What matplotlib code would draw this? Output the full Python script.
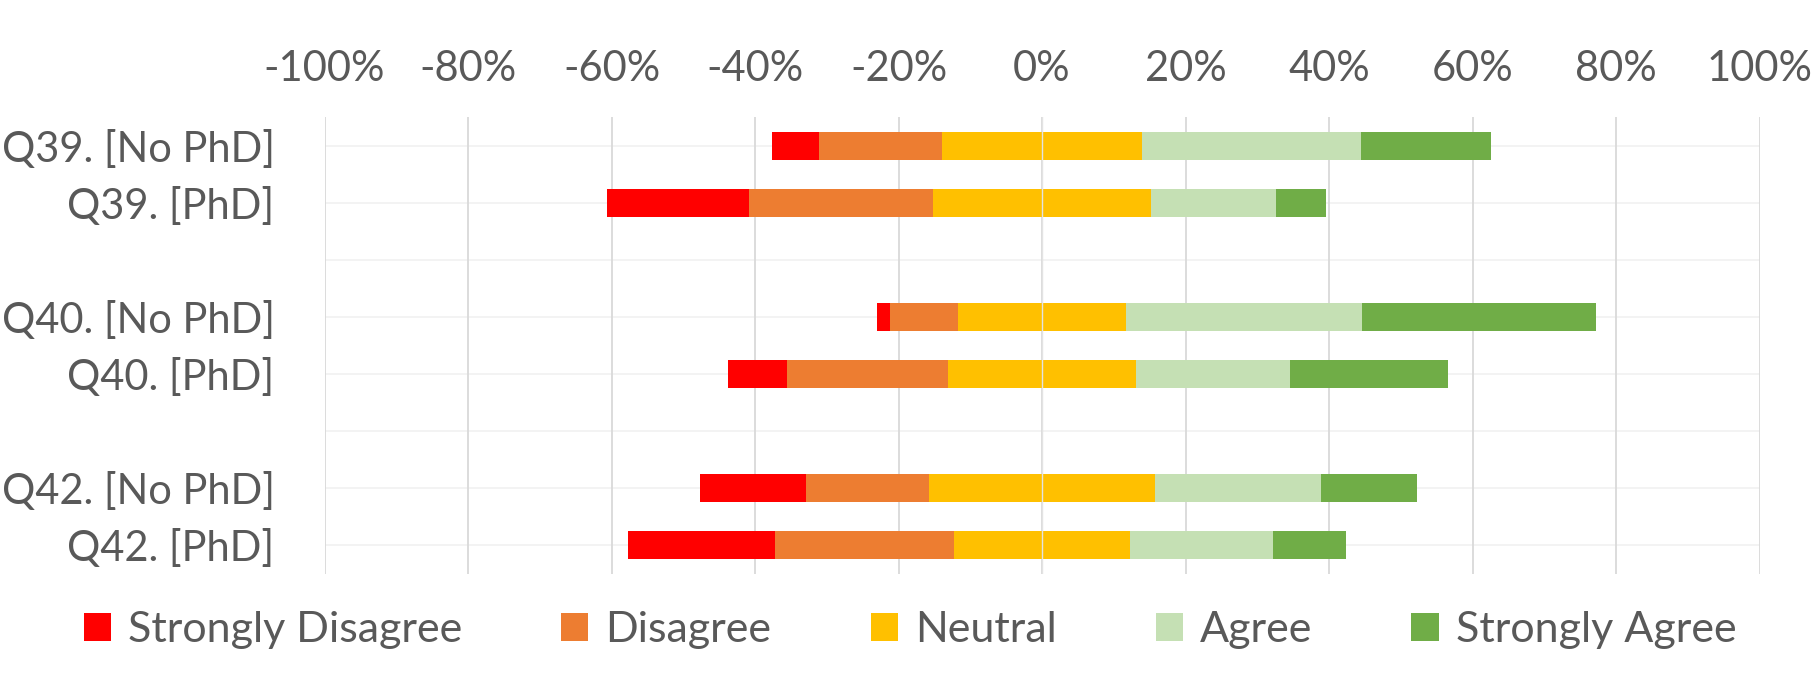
import numpy as np
import matplotlib.pyplot as plt

plt.rcParams['font.family'] = ['Lato', 'DejaVu Sans']

labels = ['Q39. [No PhD]', 'Q39. [PhD]', '', 'Q40. [No PhD]', 'Q40. [PhD]', '',
          'Q42. [No PhD]', 'Q42. [PhD]']
series = ['Strongly Disagree', 'Disagree', 'Neutral', 'Agree', 'Strongly Agree']
colors = ['#FF0000', '#ED7D31', '#FFC000', '#C5E0B4', '#70AD47']

# percent per answer, blank rows are spacers
strongly_disagree = [6.5, 19.8, 0, 1.8, 8.3, 0, 14.8, 20.5]
disagree = [17.2, 25.6, 0, 9.5, 22.4, 0, 17.2, 25.0]
neutral = [27.8, 30.4, 0, 23.4, 26.2, 0, 31.4, 24.5]
agree = [30.6, 17.4, 0, 32.9, 21.5, 0, 23.2, 19.9]
strongly_agree = [18.1, 7.0, 0, 32.6, 22.0, 0, 13.3, 10.2]

xticks = [-100, -80, -60, -40, -20, 0, 20, 40, 60, 80, 100]

vals = np.array([strongly_disagree, disagree, neutral, agree, strongly_agree])
start = -(vals[0] + vals[1] + vals[2] / 2)
y = np.arange(len(labels))

fig = plt.figure(figsize=(18.2, 6.76), dpi=100)
ax = fig.add_axes([0.1783, 0.1516, 0.7885, 0.6746])

left = start.copy()
for i in range(len(series)):
    ax.barh(y, vals[i], left=left, height=0.5, color=colors[i], label=series[i], zorder=3)
    left = left + vals[i]

for xv in xticks:
    ax.axvline(xv, color='#D9D9D9', lw=1.3, zorder=1)
for yv in y:
    ax.axhline(yv, color='#F2F2F2', lw=1.3, zorder=0)
ax.axvline(0, color='#E3E3E3', lw=1.0, zorder=4)

ax.set_xlim(-100, 100)
ax.set_ylim(len(labels) - 0.5, -0.5)
ax.set_xticks(xticks)
ax.set_xticklabels(['{}%'.format(v) for v in xticks])
ax.xaxis.tick_top()
ax.set_yticks(y)
ax.set_yticklabels(labels)
ax.tick_params(length=0, labelsize=30, colors='#595959')
ax.tick_params(axis='x', pad=21)
ax.tick_params(axis='y', pad=36)
for s in ax.spines.values():
    s.set_visible(False)

fig.legend(loc='center', bbox_to_anchor=(0.5, 0.068), ncol=5, frameon=False,
           fontsize=31, labelcolor='#595959', handlelength=0.63, handleheight=0.63,
           handletextpad=0.4, columnspacing=2.3)

plt.savefig('out.png', dpi=100)
